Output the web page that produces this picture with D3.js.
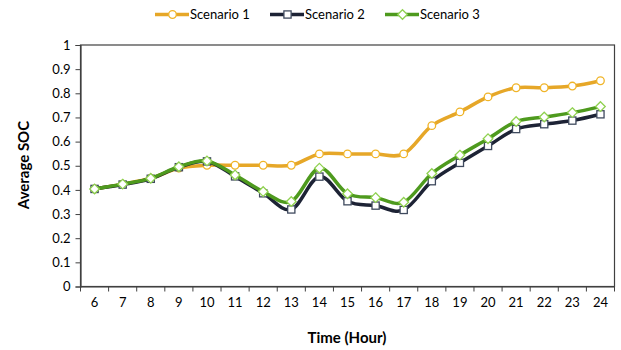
<!DOCTYPE html>
<html><head><meta charset="utf-8">
<script src="https://cdn.jsdelivr.net/npm/d3@7"></script>
<style>body{margin:0;background:#fff}svg{display:block}text{font-family:Lato,"Open Sans",sans-serif;fill:#000}</style>
</head><body>
<svg id="c" width="621" height="350"></svg>
<script>
const hours = ["6","7","8","9","10","11","12","13","14","15","16","17","18","19","20","21","22","23","24"];
const scenario1 = [0.404,0.424,0.448,0.490,0.502,0.502,0.502,0.502,0.549,0.549,0.549,0.549,0.666,0.723,0.785,0.823,0.823,0.830,0.852];
const scenario2 = [0.404,0.422,0.446,0.494,0.518,0.456,0.386,0.319,0.455,0.353,0.335,0.317,0.436,0.512,0.582,0.652,0.672,0.687,0.713];
const scenario3 = [0.404,0.424,0.448,0.496,0.520,0.462,0.393,0.352,0.490,0.384,0.368,0.349,0.468,0.544,0.612,0.683,0.702,0.720,0.745];
const seriesNames = ["Scenario 1","Scenario 2","Scenario 3"];
const yTicks = [0,0.1,0.2,0.3,0.4,0.5,0.6,0.7,0.8,0.9,1];

const svg = d3.select("#c");
const L = 80.5, R = 614.5, T = 45, B = 286.5;
const x = d3.scaleBand().domain(hours).range([L, R]).padding(0);
const y = d3.scaleLinear().domain([0,1]).range([B, T]);

// plot area frame
svg.append("rect").attr("x",L).attr("y",T).attr("width",R-L).attr("height",B-T)
  .attr("fill","none").attr("stroke","#404040").attr("stroke-width",1.2);

// y axis
const ya = svg.append("g").attr("transform",`translate(${L},0)`)
  .call(d3.axisLeft(y).tickValues(yTicks).tickSize(5).tickPadding(5).tickFormat(d=>d3.format("")(+d.toFixed(1))));
ya.select(".domain").attr("stroke","#404040").attr("stroke-width",1.2);
ya.selectAll(".tick line").attr("stroke","#404040");
ya.selectAll(".tick text").style("font-size","13px").attr("fill","#000");

// x axis with ticks between categories
const xa = svg.append("g").attr("transform",`translate(0,${B})`)
  .call(d3.axisBottom(x).tickSize(0).tickPadding(11));
xa.select(".domain").attr("stroke","#404040").attr("stroke-width",1.2);
xa.selectAll(".tick text").style("font-size","13px").attr("fill","#000");
const edges = hours.map(h=>x(h)).concat([R]);
svg.append("g").selectAll("line").data(edges).join("line")
  .attr("x1",d=>d).attr("x2",d=>d).attr("y1",B).attr("y2",B+5)
  .attr("stroke","#404040").attr("stroke-width",1);

// titles
svg.append("text").attr("x",347).attr("y",343).attr("text-anchor","middle")
  .style("font-size","15px").style("font-weight","bold").text("Time (Hour)");
svg.append("text").attr("transform","translate(29,165) rotate(-90)").attr("text-anchor","middle")
  .style("font-size","15px").style("font-weight","bold").text("Average SOC");

const styles = [
  {data:scenario1, line:"#E6A728", mstroke:"#F0B428", shape:"circle"},
  {data:scenario2, line:"#1D2335", mstroke:"#3F4A5E", shape:"square"},
  {data:scenario3, line:"#4E9A1E", mstroke:"#8FD14F", shape:"diamond"}
];
const cx = h => x(h) + x.bandwidth()/2;
const lineGen = d3.line().x(d=>cx(d.h)).y(d=>y(d.v)).curve(d3.curveCatmullRom.alpha(0));

function marker(g, shape, stroke){
  if(shape==="circle") g.append("circle").attr("r",3.8);
  else if(shape==="square") g.append("rect").attr("x",-3.6).attr("y",-3.6).attr("width",7.2).attr("height",7.2);
  else g.append("path").attr("d","M0,-4.8L4.8,0L0,4.8L-4.8,0Z");
  g.selectAll("*").attr("fill","#fff").attr("stroke",stroke).attr("stroke-width",1.3);
}

styles.forEach(s=>{
  const pts = hours.map((h,i)=>({h, v:s.data[i]}));
  svg.append("path").datum(pts).attr("d",lineGen).attr("fill","none")
    .attr("stroke",s.line).attr("stroke-width",3.5).attr("stroke-linejoin","round").attr("stroke-linecap","round");
  const mg = svg.append("g");
  pts.forEach(p=>{
    const g = mg.append("g").attr("transform",`translate(${cx(p.h)},${y(p.v)})`);
    marker(g, s.shape, s.mstroke);
  });
});

// legend
const legX = [155, 270, 385];
styles.forEach((s,i)=>{
  const g = svg.append("g").attr("transform",`translate(${legX[i]},14.5)`);
  g.append("line").attr("x1",0).attr("x2",34).attr("y1",0).attr("y2",0)
    .attr("stroke",s.line).attr("stroke-width",3.5);
  const mg = g.append("g").attr("transform","translate(17.5,0)");
  marker(mg, s.shape, s.mstroke);
  g.append("text").attr("x",35).attr("y",4.8).style("font-size","13px").text(seriesNames[i]);
});
</script>
</body></html>
